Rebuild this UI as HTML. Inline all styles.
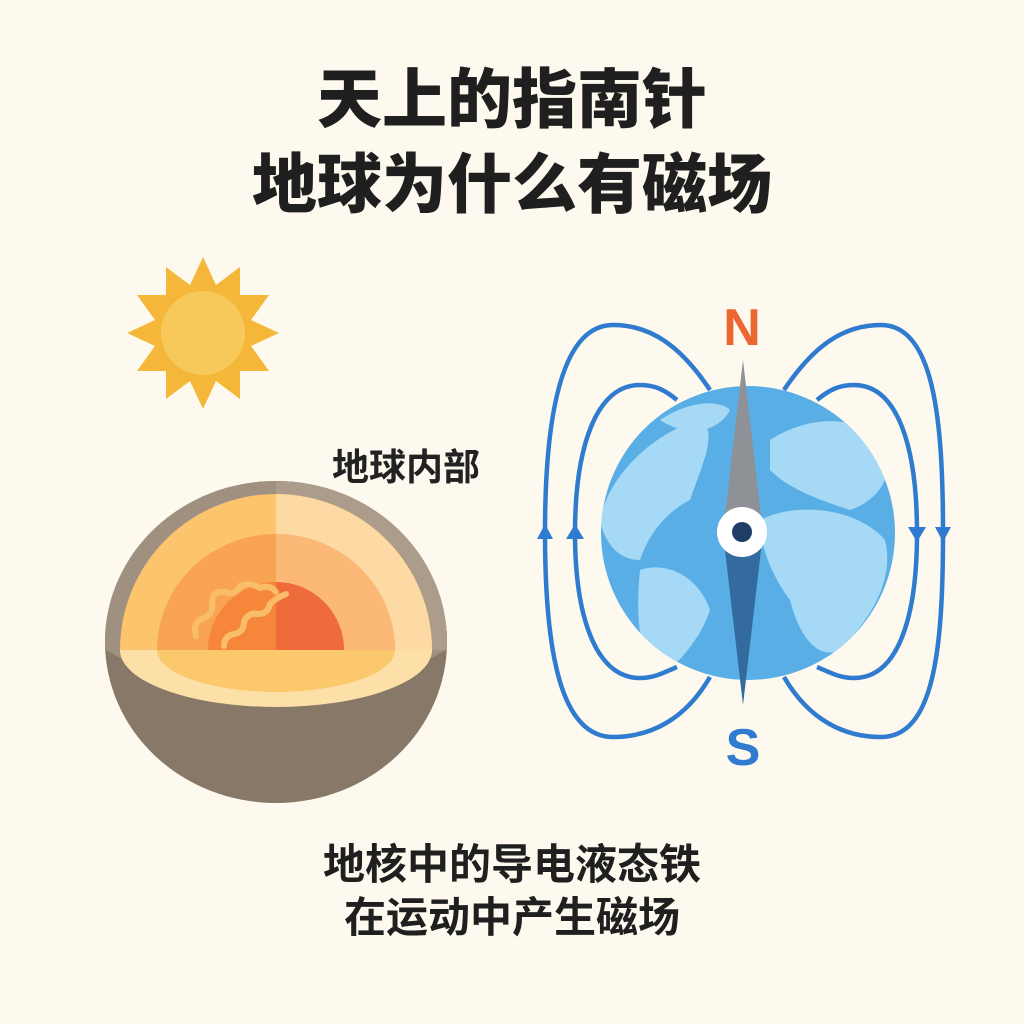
<!DOCTYPE html>
<html><head><meta charset="utf-8"><style>
html,body{margin:0;padding:0;background:#fdf9ee;}
body{width:1024px;height:1024px;position:relative;overflow:hidden;font-family:"Liberation Sans","Noto Sans CJK SC",sans-serif;}
.t{position:absolute;left:0;width:1024px;text-align:center;font-weight:900;color:#1f1f1f;}
</style></head><body>
<div class="t" style="top:60px;font-size:65px;line-height:80px;">天上的指南针</div>
<div class="t" style="top:145px;font-size:65px;line-height:80px;">地球为什么有磁场</div>
<div style="position:absolute;left:332px;top:446px;font-size:37px;line-height:44px;font-weight:700;color:#222;">地球内部</div>
<div class="t" style="top:838px;font-size:42px;line-height:54px;font-weight:700;">地核中的导电液态铁</div>
<div class="t" style="top:891px;font-size:42px;line-height:54px;font-weight:700;">在运动中产生磁场</div>
<svg width="1024" height="1024" style="position:absolute;left:0;top:0">
<g transform="translate(203,333)">
<polygon fill="#f5b73a" points="0,-76 13,-48 37,-66 37,-38 66,-38 48,-13 76,0 48,13 66,38 37,38 37,66 13,48 0,76 -13,48 -37,66 -37,38 -66,38 -48,13 -76,0 -48,-13 -66,-38 -37,-38 -37,-66 -13,-48"/>
<circle r="42" fill="#f7c95a"/>
</g>
<ellipse cx="276" cy="642" rx="171" ry="161" fill="#877868"/>
<path d="M105,642 A171,161 0 0 1 447,642 L447,650 L105,650Z" fill="#a09080"/>
<path d="M276,481 A171,161 0 0 1 447,642 L447,650 L276,650Z" fill="#ab9c8c"/>
<path d="M106,650 Q276,750 446,650 Z" fill="#a09080"/>
<path d="M120,650 A156,156 0 0 1 432,650 Z" fill="#fcc46c"/>
<path d="M276,494 A156,156 0 0 1 432,650 L276,650Z" fill="#fdd9a3"/>
<path d="M120,650 A156,57 0 0 0 432,650 Z" fill="#fde0a8"/>
<path d="M157,650 A119,42 0 0 0 395,650 Z" fill="#fbc86c"/>
<path d="M157,650 A119,116 0 0 1 395,650 Z" fill="#f9a452"/>
<path d="M276,534 A119,116 0 0 1 395,650 L276,650Z" fill="#fbb877"/>
<path d="M208,650 A68,68 0 0 1 344,650 Z" fill="#f6863a"/>
<path d="M276,582 A68,68 0 0 1 344,650 L276,650Z" fill="#ee6c3c"/>
<path d="M196,636 q-4,-14 8,-18 q10,-4 8,-16 q0,-12 14,-10 q10,4 14,-6 q10,-4 20,2 q10,-4 16,4" fill="none" stroke="#f9bd6a" stroke-width="6" stroke-linecap="round"/>
<path d="M224,646 q0,-10 10,-12 q10,-2 10,-12 q4,-10 14,-8 q10,0 12,-10 q6,-6 16,-10" fill="none" stroke="#f9bd6a" stroke-width="6" stroke-linecap="round"/>
<g fill="none" stroke="#2f7bcf" stroke-width="4.5">
<path d="M710,390 C680,345 650,325 613,325 C560,325 545,420 545,533 C545,650 560,737 613,737 C650,737 685,720 710,677"/>
<path d="M677,400 C665,390 655,385 640,385 C595,385 575,450 575,533 C575,615 595,678 640,678 C655,678 665,672 677,667"/>
<path d="M784,390 C814,345 844,325 881,325 C934,325 943,420 943,533 C943,650 934,737 881,737 C844,737 809,720 784,677"/>
<path d="M817,400 C829,390 839,385 854,385 C899,385 917,450 917,533 C917,615 899,678 854,678 C839,678 829,672 817,667"/>
</g>
<g fill="#2f7bcf">
<polygon points="545,524 537,539 553,539"/><polygon points="575,524 566,539 584,539"/>
<polygon points="917,542 908,527 926,527"/><polygon points="943,542 935,527 951,527"/>
</g>
<defs><clipPath id="g"><circle cx="748" cy="533" r="147"/></clipPath></defs>
<circle cx="748" cy="533" r="147" fill="#5aaee6"/>
<g clip-path="url(#g)" fill="#a6d9f5">
<path d="M600,520 C610,470 660,430 700,420 C720,430 700,470 690,500 C670,510 650,530 640,560 C620,560 605,545 600,520Z"/>
<path d="M640,570 C670,560 700,580 710,610 C700,640 680,660 660,680 C640,660 635,620 640,570Z"/>
<path d="M770,440 C800,420 850,410 880,440 C900,470 880,500 850,510 C820,500 790,490 770,470Z"/>
<path d="M760,520 C800,500 860,510 885,540 C895,580 870,620 840,650 C820,660 800,640 790,600 C775,580 760,550 760,520Z"/>
<path d="M660,420 C690,400 720,400 730,410 C720,430 690,440 660,420Z"/>
</g>
<polygon points="743,360 763,533 723,533" fill="#8e9296"/>
<polygon points="723,533 763,533 743,705" fill="#336b9e"/>
<circle cx="742" cy="532" r="25" fill="#fff"/>
<circle cx="742" cy="532" r="10" fill="#1f3d66"/>
<text x="742" y="345" text-anchor="middle" font-family="Liberation Sans" font-weight="700" font-size="52" fill="#ec6631">N</text>
<text x="743" y="765" text-anchor="middle" font-family="Liberation Sans" font-weight="700" font-size="52" fill="#2f7bcf">S</text>
</svg>
</body></html>
